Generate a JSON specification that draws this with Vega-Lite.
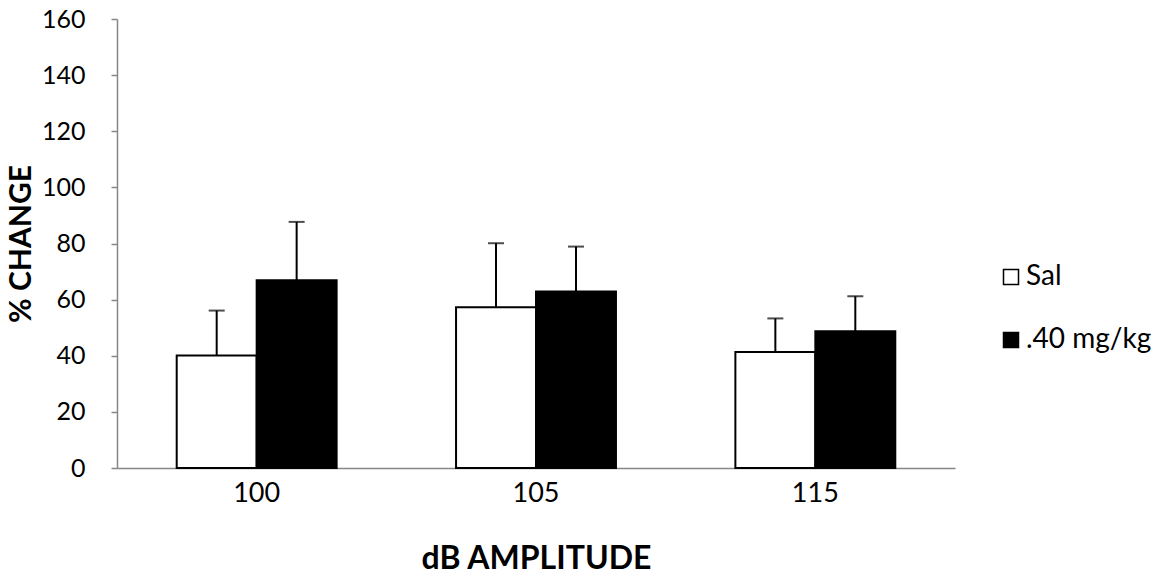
{
  "$schema": "https://vega.github.io/schema/vega-lite/v6.json",
  "width": 838,
  "height": 449,
  "autosize": {"type": "none"},
  "padding": {"left": 117, "top": 19, "right": 217, "bottom": 112},
  "background": "white",
  "config": {
    "view": {"stroke": null},
    "font": "Lato",
    "axis": {"labelFont": "Lato", "titleFont": "Lato", "grid": false},
    "legend": {"labelFont": "Lato"}
  },
  "data": {
    "values": [
      {"db": "100", "group": "Sal", "mean": 40.1, "upper": 56.1},
      {"db": "100", "group": ".40 mg/kg", "mean": 66.9, "upper": 87.7},
      {"db": "105", "group": "Sal", "mean": 57.3, "upper": 80.1},
      {"db": "105", "group": ".40 mg/kg", "mean": 62.9, "upper": 78.9},
      {"db": "115", "group": "Sal", "mean": 41.3, "upper": 53.3},
      {"db": "115", "group": ".40 mg/kg", "mean": 48.7, "upper": 61.2}
    ]
  },
  "encoding": {
    "x": {
      "field": "db",
      "type": "nominal",
      "scale": {"domain": ["100", "105", "115"], "paddingInner": 0.4275, "paddingOuter": 0.21375},
      "axis": {
        "title": "dB AMPLITUDE",
        "labelAngle": 0,
        "labelFontSize": 27,
        "labelColor": "black",
        "labelPadding": 12,
        "ticks": false,
        "domainColor": "#868686",
        "domainWidth": 1.5,
        "titleFontSize": 32,
        "titleFontWeight": "bold",
        "titleColor": "black",
        "titlePadding": 37
      }
    },
    "xOffset": {
      "field": "group",
      "type": "nominal",
      "scale": {"domain": ["Sal", ".40 mg/kg"], "paddingInner": 0, "paddingOuter": 0}
    }
  },
  "layer": [
    {
      "mark": {"type": "bar", "stroke": "black", "strokeWidth": 2},
      "encoding": {
        "y": {
          "field": "mean",
          "type": "quantitative",
          "scale": {"domain": [0, 160]},
          "axis": {
            "title": "% CHANGE",
            "values": [0, 20, 40, 60, 80, 100, 120, 140, 160],
            "labelFontSize": 25,
            "labelColor": "black",
            "labelPadding": 26,
            "tickSize": 6,
            "tickColor": "#868686",
            "domainColor": "#868686",
            "domainWidth": 1.5,
            "tickWidth": 1.5,
            "titleFontSize": 30,
            "titleFontWeight": "bold",
            "titleColor": "black",
            "titlePadding": 5
          }
        },
        "fill": {
          "field": "group",
          "type": "nominal",
          "scale": {"domain": ["Sal", ".40 mg/kg"], "range": ["white", "black"]},
          "legend": {
            "title": null,
            "orient": "none",
            "legendX": 880,
            "legendY": 244,
            "symbolType": "square",
            "symbolSize": 225,
            "symbolStrokeColor": "black",
            "symbolStrokeWidth": 1.5,
            "labelFontSize": 28,
            "labelColor": "black",
            "labelOffset": 1,
            "rowPadding": 35
          }
        }
      }
    },
    {
      "mark": {"type": "rule", "color": "black", "strokeWidth": 2},
      "encoding": {
        "y": {"field": "mean", "type": "quantitative"},
        "y2": {"field": "upper"}
      }
    },
    {
      "mark": {"type": "tick", "color": "black", "thickness": 2, "size": 16, "orient": "horizontal"},
      "encoding": {
        "y": {"field": "upper", "type": "quantitative"}
      }
    }
  ]
}
